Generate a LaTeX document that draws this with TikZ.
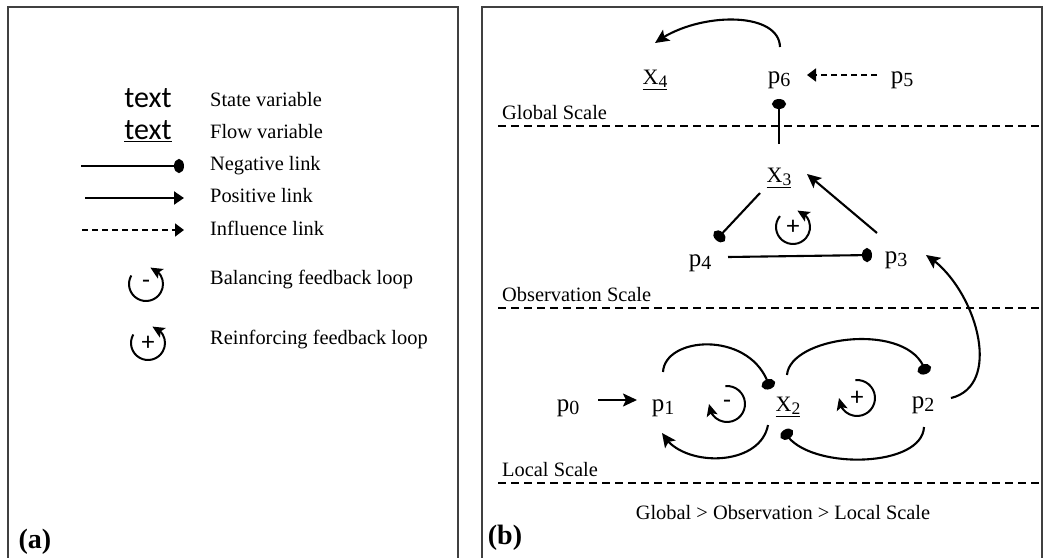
\documentclass[tikz,border=0pt]{standalone}
\usepackage{fontspec}
\usepackage{graphicx}
\setmainfont{Liberation Serif}
\newfontfamily\sansf{Carlito}
\usetikzlibrary{arrows.meta,bending,calc}
\newcommand\mysub[1]{\raisebox{-0.3ex}{\scalebox{0.8}{#1}}}
\tikzset{
  lbl/.style={font=\fontsize{20.4}{24}\selectfont, anchor=west, inner sep=0pt, text height=13pt, text depth=4pt},
  var/.style={font=\fontsize{25}{29}\selectfont, inner sep=1pt},
  xvar/.style={font=\fontsize{22}{26}\selectfont, inner sep=1pt},
  link/.style={line width=2.1pt},
  poslink/.style={link, -{Stealth[length=14pt,width=13pt,inset=3pt]}},
  poslegend/.style={link, -{Triangle[length=10pt,width=13pt]}},
  neglink/.style={link, -{Ellipse[length=10pt,width=14pt]}},
  infllink/.style={line width=1.8pt, dash pattern=on 6pt off 4pt, -{Triangle[length=9pt,width=13pt]}},
  scaleline/.style={line width=1.6pt, dash pattern=on 8pt off 5pt},
  fbloop/.style={line width=2pt, -{Stealth[length=12pt,width=11pt,inset=2.5pt]}},
  sign/.style={font=\sansf\fontsize{26}{28}\selectfont, inner sep=0pt},
  panel/.style={draw=black!75, line width=2.2pt},
  tag/.style={font=\bfseries\fontsize{28}{32}\selectfont, inner sep=0pt},
}
\begin{document}
\begin{tikzpicture}[x=1pt,y=1pt]
\useasboundingbox (0,-557) rectangle (1044,0);
% panels
\draw[panel] (8,-570) -- (8,-7) -- (458,-7) -- (458,-570);
\draw[panel] (482,-570) -- (482,-7) -- (1042,-7) -- (1042,-570);
\node[tag] (ta) at (35,-542) {(a)};
\node[tag] (tb) at (505,-538) {(b)};

% ---------- legend ----------
\node[font=\sansf\fontsize{30}{34}\selectfont, inner sep=0pt] (st) at (148,-98) {text};
\node[font=\sansf\fontsize{30}{34}\selectfont, inner sep=0pt] (fl) at (148,-131) {\underline{text}};
\node[lbl] (lst) at (210,-102) {State variable};
\node[lbl] (lfl) at (210,-134) {Flow variable};
\node[lbl] (lng) at (210,-166) {Negative link};
\node[lbl] (lps) at (210,-198) {Positive link};
\node[lbl] (lin) at (210,-231) {Influence link};
\node[lbl] (lbl1) at (210,-280) {Balancing feedback loop};
\node[lbl] (lrf) at (210,-340) {Reinforcing feedback loop};
\coordinate (na) at (81,-166);  \coordinate (nb) at (184,-166);
\coordinate (pa) at (85,-198);  \coordinate (pb) at (184,-198);
\coordinate (ia) at (82,-230);  \coordinate (ib) at (184,-230);
\draw[neglink] (na) -- (nb);
\draw[poslegend] (pa) -- (pb);
\draw[infllink] (ia) -- (ib);
\node[sign] (LB) at (146,-284) {-};
\draw[fbloop] ($(LB)+(150:17)$) arc[start angle=150, end angle=435, radius=17];
\node[sign] (LR) at (148,-343) {+};
\draw[fbloop] ($(LR)+(150:17)$) arc[start angle=150, end angle=435, radius=17];

% ---------- scales ----------
\coordinate (g1) at (498,-126); \coordinate (g2) at (1039,-126);
\coordinate (o1) at (498,-308); \coordinate (o2) at (1039,-308);
\coordinate (l1) at (498,-483); \coordinate (l2) at (1039,-483);
\draw[scaleline] (g1) -- (g2);
\draw[scaleline] (o1) -- (o2);
\draw[scaleline] (l1) -- (l2);
\node[lbl] (sg) at (502,-115) {Global Scale};
\node[lbl] (so) at (502,-297) {Observation Scale};
\node[lbl] (sl) at (502,-472) {Local Scale};
\node[lbl, anchor=center] (cmp) at (783,-515) {Global > Observation > Local Scale};

% ---------- variables ----------
\node[xvar] (X4) at (655,-80) {\underline{X\mysub{4}}};
\node[var] (p6) at (779,-80) {p\mysub{6}};
\node[var] (p5) at (902,-80) {p\mysub{5}};
\node[xvar] (X3) at (779,-178) {\underline{X\mysub{3}}};
\node[var] (p4) at (700,-263) {p\mysub{4}};
\node[var] (p3) at (896,-260) {p\mysub{3}};
\node[var] (p0) at (568,-408) {p\mysub{0}};
\node[var] (p1) at (663,-408) {p\mysub{1}};
\node[xvar] (X2) at (788,-407) {\underline{X\mysub{2}}};
\node[var] (p2) at (923,-405) {p\mysub{2}};

% ---------- links ----------
\draw[poslink] ($(p6)+(1,33)$) .. controls +(-1,37) and +(40,31) .. ($(X4)+(0,37)$);
\draw[infllink] ($(p5)+(-25,5)$) -- ($(p6)+(28,5)$);
\draw[neglink] ($(X3)+(0,34)$) -- ($(p6)+(0,-19)$);
\draw[neglink] ($(X3)+(-19,-15)$) -- ($(p4)+(16,23)$);
\draw[neglink] ($(p4)+(28,6)$) -- ($(p3)+(-24,5)$);
\draw[poslink] ($(p3)+(-19,27)$) -- ($(X3)+(28,4)$);
\draw[poslink] ($(p2)+(28,7)$) .. controls +(54,13) and +(49,-30) .. ($(p3)+(30,5)$);
\draw[poslink] ($(p0)+(30,8)$) -- ($(p1)+(-26,8)$);
\draw[neglink] ($(p1)+(0,36)$) .. controls +(2,37) and +(-15,59) .. ($(X2)+(-18,18)$);
\draw[poslink] ($(X2)+(-20,-18)$) .. controls +(-8,-43) and +(18,-35) .. ($(p1)+(-1,-25)$);
\draw[neglink] ($(X2)+(-1,32)$) .. controls +(3,40) and +(-11,54) .. ($(p2)+(3,31)$);
\draw[neglink] ($(p2)+(1,-22)$) .. controls +(-2,-43) and +(16,-40) .. ($(X2)+(-4,-23)$);

% ---------- loops ----------
\node[sign] (Lt) at (793,-227) {+};
\draw[fbloop] ($(Lt)+(140:17)$) arc[start angle=140, end angle=435, radius=17];
\node[sign] (Lm) at (727,-404) {-};
\draw[fbloop] ($(Lm)+(95:18)$) arc[start angle=95, end angle=-180, radius=18];
\node[sign] (Lp) at (857,-398) {+};
\draw[fbloop] ($(Lp)+(95:18)$) arc[start angle=95, end angle=-180, radius=18];
\end{tikzpicture}
\end{document}
